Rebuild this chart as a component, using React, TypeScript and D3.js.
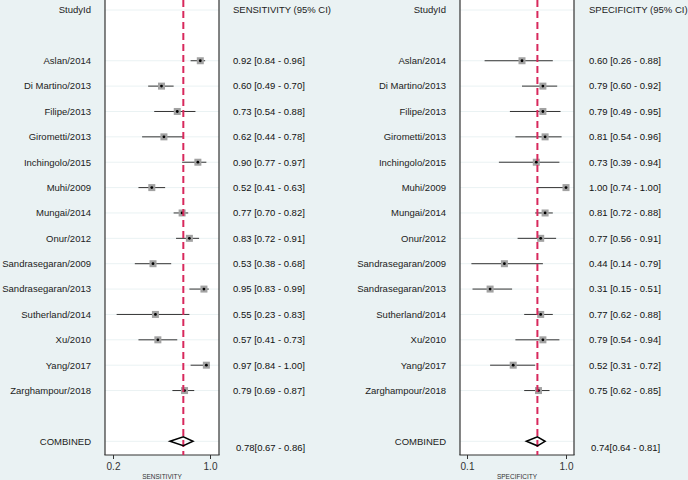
import React, { useEffect, useRef } from "react";
import * as d3 from "d3";

const studies = [
  "Aslan/2014", "Di Martino/2013", "Filipe/2013", "Girometti/2013", "Inchingolo/2015",
  "Muhi/2009", "Mungai/2014", "Onur/2012", "Sandrasegaran/2009", "Sandrasegaran/2013",
  "Sutherland/2014", "Xu/2010", "Yang/2017", "Zarghampour/2018",
];
const sensEst = [0.92, 0.60, 0.73, 0.62, 0.90, 0.52, 0.77, 0.83, 0.53, 0.95, 0.55, 0.57, 0.97, 0.79];
const sensLo = [0.84, 0.49, 0.54, 0.44, 0.77, 0.41, 0.70, 0.72, 0.38, 0.83, 0.23, 0.41, 0.84, 0.69];
const sensHi = [0.96, 0.70, 0.88, 0.78, 0.97, 0.63, 0.82, 0.91, 0.68, 0.99, 0.83, 0.73, 1.00, 0.87];
const specEst = [0.60, 0.79, 0.79, 0.81, 0.73, 1.00, 0.81, 0.77, 0.44, 0.31, 0.77, 0.79, 0.52, 0.75];
const specLo = [0.26, 0.60, 0.49, 0.54, 0.39, 0.74, 0.72, 0.56, 0.14, 0.15, 0.62, 0.54, 0.31, 0.62];
const specHi = [0.88, 0.92, 0.95, 0.96, 0.94, 1.00, 0.88, 0.91, 0.79, 0.51, 0.88, 0.94, 0.72, 0.85];
const sensCombined = [0.78, 0.67, 0.86];
const specCombined = [0.74, 0.64, 0.81];
const sensTicks = [0.2, 1.0];
const specTicks = [0.1, 1.0];

const W = 688;
const H = 480;
const BG = "rgb(234,242,243)";
const FONT = "'Liberation Sans', Arial, Helvetica, sans-serif";
const FS = 9.5;

const yRow = d3.scaleLinear().domain([0, 17]).range([10, 441.3]);

type PanelCfg = {
  title: string;
  axisTitle: string;
  est: number[];
  lo: number[];
  hi: number[];
  comb: number[];
  ticks: number[];
  domain: [number, number];
  range: [number, number];
  labelX: number;
  plotL: number;
  plotR: number;
  textX: number;
  combTextX: number;
};

const fmt = d3.format(".2f");
const axisBottomY = 455;

function Panel({ cfg }: { cfg: PanelCfg }) {
  const axisRef = useRef<SVGGElement>(null);
  const x = d3.scaleLinear().domain(cfg.domain).range(cfg.range);
  useEffect(() => {
    if (!axisRef.current) return;
    const g = d3.select(axisRef.current);
    g.selectAll("*").remove();
    g.call(
      d3.axisBottom(x).tickValues(cfg.ticks).tickFormat(d3.format(".1f")).tickSize(4).tickSizeOuter(0)
    );
    g.select(".domain").remove();
    g.selectAll(".tick line").attr("stroke", "#333").attr("stroke-width", 1);
    g.selectAll(".tick text")
      .attr("fill", "#333")
      .attr("font-size", 10)
      .attr("font-family", FONT)
      .attr("dy", "0.85em")
      .attr("y", 6);
  }, []);
  const rows = studies.map((s, i) => i + 2);
  const sq = 7;
  const cy = yRow(17);
  const dh = 4.5;
  const [ce, cl, ch] = cfg.comb;
  return (
    <g>
      <rect x={cfg.plotL} y={0} width={cfg.plotR - cfg.plotL} height={axisBottomY} fill="#fff" />
      {[0, ...rows, 17].map((r) => (
        <line key={"g" + r} x1={cfg.plotL} x2={cfg.plotR} y1={yRow(r)} y2={yRow(r)} stroke={BG} strokeWidth={1} />
      ))}
      <line x1={cfg.plotL} x2={cfg.plotL} y1={0} y2={axisBottomY} stroke="#333" strokeWidth={1.2} />
      <line x1={cfg.plotR} x2={cfg.plotR} y1={0} y2={axisBottomY} stroke="#333" strokeWidth={1.2} />
      <line x1={cfg.plotL - 0.6} x2={cfg.plotR + 0.6} y1={axisBottomY} y2={axisBottomY} stroke="#333" strokeWidth={1.2} />
      <text x={cfg.labelX} y={yRow(0)} dy="0.35em" textAnchor="end" fontSize={FS} fontFamily={FONT} fill="#222">StudyId</text>
      <text x={cfg.textX} y={yRow(0)} dy="0.35em" fontSize={FS} fontFamily={FONT} fill="#222">{cfg.title}</text>
      {studies.map((s, i) => {
        const y = yRow(rows[i]);
        return (
          <g key={s}>
            <text x={cfg.labelX} y={y} dy="0.35em" textAnchor="end" fontSize={FS} fontFamily={FONT} fill="#222">{s}</text>
            <line x1={x(cfg.lo[i])} x2={x(cfg.hi[i])} y1={y} y2={y} stroke="#333" strokeWidth={1} />
            <rect x={x(cfg.est[i]) - sq / 2} y={y - sq / 2} width={sq} height={sq} fill="#a2a2a2" />
            <circle cx={x(cfg.est[i])} cy={y} r={1.4} fill="#000" />
            <text x={cfg.textX} y={y} dy="0.35em" fontSize={FS} fontFamily={FONT} fill="#111">
              {`${fmt(cfg.est[i])} [${fmt(cfg.lo[i])} - ${fmt(cfg.hi[i])}]`}
            </text>
          </g>
        );
      })}
      <line x1={x(ce)} x2={x(ce)} y1={0} y2={axisBottomY} stroke="#d8285c" strokeWidth={2} strokeDasharray="7,4" />
      <path
        d={`M${x(cl)},${cy} L${x(ce)},${cy - dh} L${x(ch)},${cy} L${x(ce)},${cy + dh} Z`}
        fill="none"
        stroke="#000"
        strokeWidth={1.5}
      />
      <text x={cfg.labelX} y={cy} dy="0.35em" textAnchor="end" fontSize={FS} fontFamily={FONT} fill="#222">COMBINED</text>
      <text x={cfg.combTextX} y={cy + 6} dy="0.35em" fontSize={FS} fontFamily={FONT} fill="#111">
        {`${fmt(ce)}[${fmt(cl)} - ${fmt(ch)}]`}
      </text>
      <g ref={axisRef} transform={`translate(0,${axisBottomY})`} />
      <text x={(cfg.plotL + cfg.plotR) / 2} y={479} textAnchor="middle" fontSize={6.5} fontFamily={FONT} fill="#333">{cfg.axisTitle}</text>
    </g>
  );
}

const sensCfg: PanelCfg = {
  title: "SENSITIVITY (95% CI)",
  axisTitle: "SENSITIVITY",
  est: sensEst,
  lo: sensLo,
  hi: sensHi,
  comb: sensCombined,
  ticks: sensTicks,
  domain: [0.2, 1.0],
  range: [113, 210],
  labelX: 91,
  plotL: 105,
  plotR: 219,
  textX: 233,
  combTextX: 236,
};

const specCfg: PanelCfg = {
  title: "SPECIFICITY (95% CI)",
  axisTitle: "SPECIFICITY",
  est: specEst,
  lo: specLo,
  hi: specHi,
  comb: specCombined,
  ticks: specTicks,
  domain: [0.1, 1.0],
  range: [467, 566],
  labelX: 446,
  plotL: 460,
  plotR: 574,
  textX: 589,
  combTextX: 591,
};

export default function App() {
  return (
    <svg width={W} height={H} style={{ position: "absolute", left: 0, top: 0, display: "block" }}>
      <rect x={0} y={0} width={W} height={H} fill={BG} />
      <Panel cfg={sensCfg} />
      <Panel cfg={specCfg} />
    </svg>
  );
}
